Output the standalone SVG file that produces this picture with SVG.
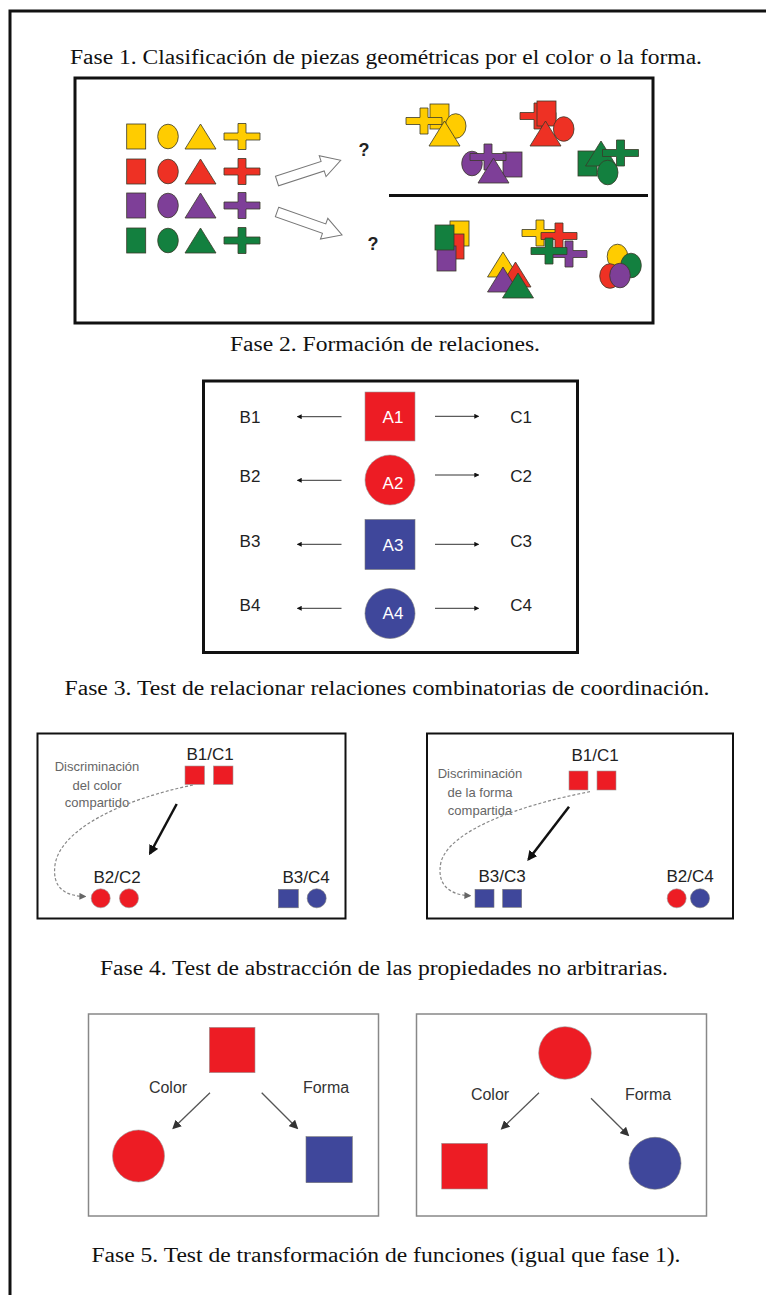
<svg xmlns="http://www.w3.org/2000/svg" width="766" height="1295" viewBox="0 0 766 1295">
<style>
.title{font-family:"Liberation Serif",serif;font-size:20px;fill:#111;text-anchor:middle}
.piece{stroke:#3a3a2a;stroke-width:0.8}
.lbl{font-family:"Liberation Sans",Arial,sans-serif;font-size:17px;fill:#222;text-anchor:middle}
.wl{font-family:"Liberation Sans",Arial,sans-serif;font-size:17px;fill:#fff;text-anchor:middle}
.sm{font-family:"Liberation Sans",Arial,sans-serif;font-size:13px;fill:#666;text-anchor:middle}
.md{font-family:"Liberation Sans",Arial,sans-serif;font-size:16px;fill:#333;text-anchor:middle}
.q{font-family:"Liberation Sans",Arial,sans-serif;font-size:18px;font-weight:bold;fill:#222;text-anchor:middle}
.thin{stroke:#333;stroke-width:1;fill:none}
.gray{stroke:#555;stroke-width:1.3;fill:none}
.dash{stroke:#888;stroke-width:1.2;fill:none;stroke-dasharray:3 2}
.bold{stroke:#111;stroke-width:2.5;fill:none}
.red{fill:#ED1C24;stroke:#999;stroke-width:0.6}
.blue{fill:#3F479B;stroke:#777;stroke-width:0.6}
</style>
<defs>
<rect id="sq" x="0" y="0" width="19" height="25"/>
<ellipse id="ci" cx="10" cy="12.5" rx="10.3" ry="12.3"/>
<polygon id="tr" points="15.5,0 31,25 0,25"/>
<polygon id="cr" points="14,0 22,0 22,9.5 36,9.5 36,16.5 22,16.5 22,26 14,26 14,16.5 0,16.5 0,9.5 14,9.5"/>
<marker id="mk" viewBox="0 0 6 6" refX="5" refY="3" markerWidth="5" markerHeight="5" orient="auto" markerUnits="userSpaceOnUse"><path d="M0,0 L6,3 L0,6 z" fill="#111"/></marker>
<marker id="mkb" viewBox="0 0 10 10" refX="8" refY="5" markerWidth="10" markerHeight="10" orient="auto" markerUnits="userSpaceOnUse"><path d="M0,0 L10,5 L0,10 z" fill="#111"/></marker>
<marker id="mkg" viewBox="0 0 10 10" refX="8" refY="5" markerWidth="9" markerHeight="9" orient="auto" markerUnits="userSpaceOnUse"><path d="M0,0 L10,5 L0,10 z" fill="#333"/></marker>
<marker id="mkd" viewBox="0 0 10 10" refX="8" refY="5" markerWidth="7" markerHeight="7" orient="auto" markerUnits="userSpaceOnUse"><path d="M0,0 L10,5 L0,10 z" fill="#666"/></marker>
</defs>
<rect x="0" y="0" width="766" height="1295" fill="#fff"/>
<rect id="frame" x="10" y="11" width="820" height="1400" fill="none" stroke="#111" stroke-width="3"/>

<!-- Titles -->
<text class="title" x="386" y="64" textLength="632" lengthAdjust="spacingAndGlyphs">Fase 1. Clasificación de piezas geométricas por el color o la forma.</text>
<text class="title" x="385" y="351" textLength="310" lengthAdjust="spacingAndGlyphs">Fase 2. Formación de relaciones.</text>
<text class="title" x="387" y="695" textLength="645" lengthAdjust="spacingAndGlyphs">Fase 3. Test de relacionar relaciones combinatorias de coordinación.</text>
<text class="title" x="384" y="975" textLength="568" lengthAdjust="spacingAndGlyphs">Fase 4. Test de abstracción de las propiedades no arbitrarias.</text>
<text class="title" x="386" y="1262" textLength="589" lengthAdjust="spacingAndGlyphs">Fase 5. Test de transformación de funciones (igual que fase 1).</text>

<!-- Phase 1 -->
<g id="phase1">
<rect x="75" y="78" width="578" height="245" fill="none" stroke="#111" stroke-width="3"/>
<g id="grid" class="piece">
<use href="#sq" x="126.7" y="124" fill="#FFCC00"/><use href="#ci" x="158" y="124" fill="#FFCC00"/><use href="#tr" x="185" y="124" fill="#FFCC00"/><use href="#cr" x="224" y="123.5" fill="#FFCC00"/>
<use href="#sq" x="126.7" y="159" fill="#EE3124"/><use href="#ci" x="158" y="159" fill="#EE3124"/><use href="#tr" x="185" y="159" fill="#EE3124"/><use href="#cr" x="224" y="158.5" fill="#EE3124"/>
<use href="#sq" x="126.7" y="193" fill="#7E3F98"/><use href="#ci" x="158" y="193" fill="#7E3F98"/><use href="#tr" x="185" y="193" fill="#7E3F98"/><use href="#cr" x="224" y="192.5" fill="#7E3F98"/>
<use href="#sq" x="126.7" y="228" fill="#13803F"/><use href="#ci" x="158" y="228" fill="#13803F"/><use href="#tr" x="185" y="228" fill="#13803F"/><use href="#cr" x="224" y="227.5" fill="#13803F"/>
</g>
<polygon points="0,-5 48,-5 48,-11 67,0 48,11 48,5 0,5" fill="#fff" stroke="#777" stroke-width="1" transform="translate(277,181) rotate(-18)"/>
<polygon points="0,-5 50,-5 50,-11 69,0 50,11 50,5 0,5" fill="#fff" stroke="#777" stroke-width="1" transform="translate(277,212) rotate(19.5)"/>
<text class="q" x="364" y="156">?</text>
<text class="q" x="373" y="250">?</text>
<line x1="389" y1="195.5" x2="648" y2="195.5" stroke="#111" stroke-width="3"/>
<g class="piece">
<use href="#sq" x="430" y="104" fill="#FFCC00"/><use href="#cr" x="406" y="108" fill="#FFCC00"/><use href="#ci" x="445.7" y="113.5" fill="#FFCC00"/><use href="#tr" x="429" y="121" fill="#FFCC00"/>
<use href="#cr" x="520" y="103" fill="#EE3124"/><use href="#sq" x="537" y="101" fill="#EE3124"/><use href="#ci" x="553.7" y="116.5" fill="#EE3124"/><use href="#tr" x="530" y="121" fill="#EE3124"/>
<use href="#ci" x="462" y="151" fill="#7E3F98"/><use href="#sq" x="503" y="152" fill="#7E3F98"/><use href="#cr" x="470" y="144" fill="#7E3F98"/><use href="#tr" x="478" y="158" fill="#7E3F98"/>
<use href="#sq" x="578" y="151" fill="#13803F"/><use href="#tr" x="585.5" y="141" fill="#13803F"/><use href="#cr" x="602.5" y="140" fill="#13803F"/><use href="#ci" x="597.7" y="160" fill="#13803F"/>
<use href="#sq" x="450" y="221" fill="#FFCC00"/><use href="#sq" x="445" y="234" fill="#EE3124"/><use href="#sq" x="437" y="246" fill="#7E3F98"/><use href="#sq" x="435" y="225" fill="#13803F"/>
<use href="#tr" x="487.5" y="252" fill="#FFCC00"/><use href="#tr" x="500" y="262" fill="#EE3124"/><use href="#tr" x="487.5" y="267" fill="#7E3F98"/><use href="#tr" x="502.5" y="273" fill="#13803F"/>
<use href="#cr" x="522" y="220" fill="#FFCC00"/><use href="#cr" x="541" y="223" fill="#EE3124"/><use href="#cr" x="551" y="241" fill="#7E3F98"/><use href="#cr" x="531" y="238" fill="#13803F"/>
<use href="#ci" x="607.5" y="244" fill="#FFCC00"/><use href="#ci" x="621" y="253" fill="#13803F"/><use href="#ci" x="600" y="263.5" fill="#EE3124"/><use href="#ci" x="610" y="263" fill="#7E3F98"/>
</g>
</g>

<!-- Phase 2 -->
<g id="phase2">
<rect x="203.5" y="381" width="374" height="271.5" fill="none" stroke="#111" stroke-width="3"/>
<g id="a1"><rect class="red" x="365" y="392" width="50" height="49"/><text class="wl" x="393" y="423">A1</text></g>
<g id="a2"><circle class="red" cx="390" cy="480" r="25"/><text class="wl" x="393" y="489">A2</text></g>
<g id="a3"><rect class="blue" x="365" y="519.5" width="50" height="50"/><text class="wl" x="393" y="551">A3</text></g>
<g id="a4"><circle class="blue" cx="390" cy="613.5" r="25"/><text class="wl" x="393" y="619">A4</text></g>
<g id="bl">
<text class="lbl" x="250" y="423">B1</text><text class="lbl" x="250" y="482">B2</text><text class="lbl" x="250" y="547">B3</text><text class="lbl" x="250" y="611">B4</text>
<text class="lbl" x="521" y="423">C1</text><text class="lbl" x="521" y="482">C2</text><text class="lbl" x="521" y="547">C3</text><text class="lbl" x="521" y="611">C4</text>
</g>
<g id="p2conn" class="thin">
<line x1="341.5" y1="416.7" x2="297.5" y2="416.7" marker-end="url(#mk)"/>
<line x1="341.5" y1="480.3" x2="297.5" y2="480.3" marker-end="url(#mk)"/>
<line x1="341.5" y1="544.3" x2="297.5" y2="544.3" marker-end="url(#mk)"/>
<line x1="341.5" y1="608.3" x2="297.5" y2="608.3" marker-end="url(#mk)"/>
<line x1="435" y1="416.3" x2="478.5" y2="416.3" marker-end="url(#mk)"/>
<line x1="435" y1="475" x2="478.5" y2="475" marker-end="url(#mk)"/>
<line x1="435" y1="544.3" x2="478.5" y2="544.3" marker-end="url(#mk)"/>
<line x1="435" y1="608.3" x2="478.5" y2="608.3" marker-end="url(#mk)"/>
</g>
</g>

<!-- Phase 3 left -->
<g id="phase3a">
<rect x="37.5" y="733.5" width="308" height="185" fill="none" stroke="#111" stroke-width="2"/>
<text class="lbl" x="210" y="759.5">B1/C1</text>
<rect class="red" x="185" y="766" width="19.5" height="18.5"/><rect class="red" x="213.5" y="766" width="19.5" height="18.5"/>
<text class="sm" x="97" y="771">Discriminación</text>
<text class="sm" x="97" y="789.5">del color</text>
<text class="sm" x="97" y="807">compartido</text>
<path class="dash" d="M193,785 C120,800 60,830 55,865 C52,888 65,896 85,896.5" marker-end="url(#mkd)"/>
<line class="bold" x1="176.7" y1="804" x2="150" y2="853.5" marker-end="url(#mkb)"/>
<text class="lbl" x="117" y="883">B2/C2</text>
<circle class="red" cx="100.7" cy="898.3" r="9.5"/><circle class="red" cx="129" cy="898.3" r="9.5"/>
<text class="lbl" x="306" y="883">B3/C4</text>
<rect class="blue" x="278.3" y="889.3" width="20" height="18.5"/><circle class="blue" cx="316.7" cy="898.3" r="9.5"/>
</g>

<!-- Phase 3 right -->
<g id="phase3b">
<rect x="427" y="733.5" width="306" height="185" fill="none" stroke="#111" stroke-width="2"/>
<text class="lbl" x="595" y="761">B1/C1</text>
<rect class="red" x="569" y="771" width="19" height="19"/><rect class="red" x="597" y="771" width="19" height="19"/>
<text class="sm" x="480" y="777.5">Discriminación</text>
<text class="sm" x="480" y="797">de la forma</text>
<text class="sm" x="480" y="814.5">compartida</text>
<path class="dash" d="M590,791.7 C520,805 450,830 441,862 C436,885 450,895 470,895.7" marker-end="url(#mkd)"/>
<line class="bold" x1="569" y1="806.7" x2="528.5" y2="859.5" marker-end="url(#mkb)"/>
<text class="lbl" x="502" y="882">B3/C3</text>
<rect class="blue" x="475" y="889.3" width="19" height="18"/><rect class="blue" x="502.7" y="889.3" width="19" height="18"/>
<text class="lbl" x="690" y="882">B2/C4</text>
<circle class="red" cx="676.7" cy="898.3" r="9.5"/><circle class="blue" cx="700" cy="898.3" r="9.5"/>
</g>

<!-- Phase 4 left -->
<g id="phase4a">
<rect x="88.5" y="1014" width="290" height="202" fill="none" stroke="#888" stroke-width="1.5"/>
<rect class="red" x="209.3" y="1027.3" width="45.7" height="45.4"/>
<text class="md" x="168" y="1093">Color</text>
<text class="md" x="326" y="1093">Forma</text>
<line class="gray" x1="210" y1="1092.7" x2="173.5" y2="1128" marker-end="url(#mkg)"/>
<line class="gray" x1="261.7" y1="1092.7" x2="297" y2="1128" marker-end="url(#mkg)"/>
<circle class="red" cx="138.5" cy="1156" r="26"/>
<rect class="blue" x="306" y="1136.7" width="46.3" height="46"/>
</g>

<!-- Phase 4 right -->
<g id="phase4b">
<rect x="416.5" y="1014" width="290" height="202" fill="none" stroke="#888" stroke-width="1.5"/>
<circle class="red" cx="565" cy="1053" r="26.3"/>
<text class="md" x="490" y="1099.5">Color</text>
<text class="md" x="648" y="1099.5">Forma</text>
<line class="gray" x1="539" y1="1092.7" x2="502" y2="1128.5" marker-end="url(#mkg)"/>
<line class="gray" x1="591" y1="1098.3" x2="628" y2="1135" marker-end="url(#mkg)"/>
<rect class="red" x="441.7" y="1143.3" width="46" height="45.7"/>
<circle class="blue" cx="655" cy="1163.3" r="26"/>
</g>
</svg>
